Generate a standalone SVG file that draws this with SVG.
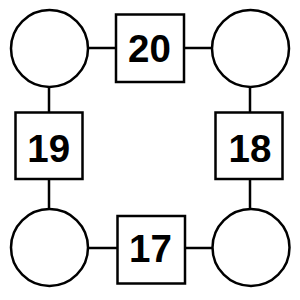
<svg xmlns="http://www.w3.org/2000/svg" width="300" height="300" viewBox="0 0 300 300">
<style>
.c{fill:#fff;stroke:#000;stroke-width:2.5}
.s{fill:#fff;stroke:#000;stroke-width:2.5}
.l{stroke:#000;stroke-width:2.5}
text{font-family:"Liberation Sans",Arial,sans-serif;font-weight:bold;font-size:38.5px;text-anchor:middle;fill:#000}
</style>
<g id="connectors">
<line class="l" x1="88" y1="48" x2="116" y2="48"/>
<line class="l" x1="184" y1="48" x2="212" y2="48"/>
<line class="l" x1="49" y1="87" x2="49" y2="113"/>
<line class="l" x1="250" y1="87" x2="250" y2="112"/>
<line class="l" x1="49" y1="180" x2="49" y2="209"/>
<line class="l" x1="250" y1="180" x2="250" y2="209"/>
<line class="l" x1="88" y1="248" x2="117" y2="248"/>
<line class="l" x1="185" y1="248" x2="213" y2="248"/>
</g>
<g id="c1"><circle class="c" cx="49.5" cy="48.5" r="38.5"/></g>
<g id="c2"><circle class="c" cx="250.5" cy="48.5" r="38.5"/></g>
<g id="c3"><circle class="c" cx="49.5" cy="247.5" r="38.5"/></g>
<g id="c4"><circle class="c" cx="251" cy="247.5" r="38.5"/></g>
<g id="n20"><rect class="s" x="116" y="14.5" width="68" height="67.5"/><text x="149.5" y="61.7">20</text></g>
<g id="n19"><rect class="s" x="15.5" y="112.5" width="67" height="66.5"/><text x="48.7" y="161.8">19</text></g>
<g id="n18"><rect class="s" x="215.5" y="112.5" width="67" height="66.5"/><text x="250" y="161.5">18</text></g>
<g id="n17"><rect class="s" x="117.5" y="216" width="67.5" height="67.5"/><text x="150.5" y="261.7">17</text></g>
</svg>
